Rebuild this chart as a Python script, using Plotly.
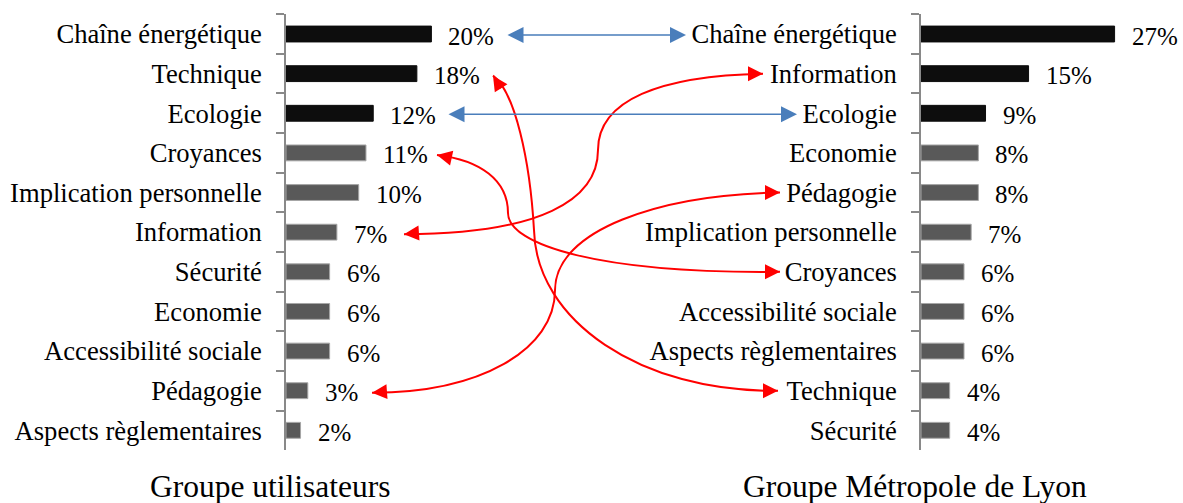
import plotly.graph_objects as go

left_categories = [
    "Chaîne énergétique", "Technique", "Ecologie", "Croyances",
    "Implication personnelle", "Information", "Sécurité", "Economie",
    "Accessibilité sociale", "Pédagogie", "Aspects règlementaires",
]
left_values = [20, 18, 12, 11, 10, 7, 6, 6, 6, 3, 2]

right_categories = [
    "Chaîne énergétique", "Information", "Ecologie", "Economie", "Pédagogie",
    "Implication personnelle", "Croyances", "Accessibilité sociale",
    "Aspects règlementaires", "Technique", "Sécurité",
]
right_values = [27, 15, 9, 8, 8, 7, 6, 6, 6, 4, 4]

left_title = "Groupe utilisateurs"
right_title = "Groupe Métropole de Lyon"

# categories shared by both groups that keep their rank (blue) or move (red)
same_rank_links = ["Chaîne énergétique", "Ecologie"]
moved_links = ["Information", "Croyances", "Technique", "Pédagogie"]

W, H = 1183, 503
FONT = "Liberation Serif"
TOP, ROW = 14.2, 39.63
AXIS_GREY = "#898989"
DARK, GREY, EDGE = "#0d0d0d", "#595959", "#a6a6a6"
BLUE, RED = "#4a7ebb", "#ff0000"


def px_x(x):
    return x / W


def px_y(y):
    return 1 - y / H


def row_y(i):
    return TOP + (i + 0.5) * ROW


def bar_colors(n):
    return [DARK if i < 3 else GREY for i in range(n)]


def bar_edges(n):
    return [DARK if i < 3 else EDGE for i in range(n)]


fig = go.Figure()
fig.add_trace(go.Bar(
    x=left_values, y=left_categories, orientation="h",
    marker=dict(color=bar_colors(len(left_values)),
                line=dict(color=bar_edges(len(left_values)), width=1)),
    xaxis="x", yaxis="y", hoverinfo="x+y",
))
fig.add_trace(go.Bar(
    x=right_values, y=right_categories, orientation="h",
    marker=dict(color=bar_colors(len(right_values)),
                line=dict(color=bar_edges(len(right_values)), width=1)),
    xaxis="x2", yaxis="y2", hoverinfo="x+y",
))

y_domain = [px_y(TOP + ROW * len(left_categories)), px_y(TOP)]
yaxis_style = dict(
    type="category", autorange="reversed", domain=y_domain,
    showline=True, linecolor=AXIS_GREY, linewidth=1.5,
    ticks="outside", tickson="boundaries", ticklen=8,
    tickcolor=AXIS_GREY, tickwidth=1.5, showgrid=False, zeroline=False,
    ticklabelstandoff=17,
    tickfont=dict(family=FONT, size=26.6, color="black"),
    automargin=False, fixedrange=True,
)
xaxis_style = dict(visible=False, showgrid=False, zeroline=False, fixedrange=True)

left_x0, left_scale, left_max = 286.0, 7.27, 25
right_x0, right_scale, right_max = 921.0, 7.17, 30

annotations = []
for cats, vals, xa, ya in [
    (left_categories, left_values, "x", "y"),
    (right_categories, right_values, "x2", "y2"),
]:
    for c, v in zip(cats, vals):
        annotations.append(dict(
            x=v, y=c, xref=xa, yref=ya, text=f"{v}%", showarrow=False,
            xanchor="left", xshift=15, yshift=-2,
            font=dict(family=FONT, size=25, color="black"),
        ))

for text, cx in [(left_title, 270), (right_title, 915)]:
    annotations.append(dict(
        x=px_x(cx), y=px_y(486), xref="paper", yref="paper", text=text,
        showarrow=False, xanchor="center", yanchor="middle",
        font=dict(family=FONT, size=31.5, color="black"),
    ))

# blue double arrows: left tip x, right tip x (pixels)
blue_x = {"Chaîne énergétique": (506, 686), "Ecologie": (447, 797)}
for cat in same_rank_links:
    xl, xr = blue_x[cat]
    yl = row_y(left_categories.index(cat)) + 1
    yr = row_y(right_categories.index(cat)) + 1
    annotations.append(dict(
        x=px_x(xr), y=px_y(yr), xref="paper", yref="paper",
        ax=xl - xr, ay=yl - yr, text="", showarrow=True,
        arrowside="end+start", arrowhead=2, startarrowhead=2,
        arrowsize=2.0, startarrowsize=2.0, arrowwidth=1.6,
        arrowcolor=BLUE, standoff=0, startstandoff=0,
    ))

# red curved connectors: two cubic pieces through an elbow point (pixels)
red_geom = {
    "Information": dict(xl=404, xr=763, dl=(14, -1),
                        c=[(540, None), (598, 200), (598, 150),
                           (598, 100), (660, None)]),
    "Croyances": dict(xl=437, xr=780, dl=(14, 3),
                      c=[(480, 160), (508, 180), (508, 213),
                         (508, 245), (600, None)]),
    "Technique": dict(xl=493, xr=778, dl=(9, 14),
                      c=[(515, 92), (530, 160), (534, 230),
                         (536, 320), (640, None)]),
    "Pédagogie": dict(xl=372, xr=780, dl=(14, -1),
                      c=[(480, None), (555, 350), (555, 290),
                         (555, 230), (660, None)]),
}
shapes = []
for cat in moved_links:
    g = red_geom[cat]
    yl = row_y(left_categories.index(cat)) + 2
    yr = row_y(right_categories.index(cat))
    p1, p2, pm, p4, p5 = g["c"]
    p1 = (p1[0], yl if p1[1] is None else p1[1])
    p5 = (p5[0], yr + 2 if p5[1] is None else p5[1])
    pts = [(g["xl"], yl), p1, p2, pm, p4, p5, (g["xr"], yr)]
    s = [f"{px_x(x):.5f},{px_y(y):.5f}" for x, y in pts]
    path = f"M{s[0]} C{s[1]} {s[2]} {s[3]} C{s[4]} {s[5]} {s[6]}"
    shapes.append(dict(type="path", path=path, xref="paper", yref="paper",
                       line=dict(color=RED, width=2)))
    dx, dy = g["dl"]
    annotations.append(dict(
        x=px_x(g["xl"]), y=px_y(yl), xref="paper", yref="paper",
        ax=dx, ay=dy, text="", showarrow=True, arrowhead=2,
        arrowsize=1.5, arrowwidth=2, arrowcolor=RED, standoff=0,
    ))
    annotations.append(dict(
        x=px_x(g["xr"]), y=px_y(yr), xref="paper", yref="paper",
        ax=-14, ay=0, text="", showarrow=True, arrowhead=2,
        arrowsize=1.5, arrowwidth=2, arrowcolor=RED, standoff=0,
    ))

fig.update_layout(
    width=W, height=H,
    margin=dict(l=0, r=0, t=0, b=0),
    paper_bgcolor="white", plot_bgcolor="white",
    showlegend=False, bargap=0.6,
    xaxis=dict(domain=[px_x(left_x0), px_x(left_x0 + left_scale * left_max)],
               range=[0, left_max], anchor="y", **xaxis_style),
    xaxis2=dict(domain=[px_x(right_x0), px_x(right_x0 + right_scale * right_max)],
                range=[0, right_max], anchor="y2", **xaxis_style),
    yaxis=dict(anchor="x", **yaxis_style),
    yaxis2=dict(anchor="x2", **yaxis_style),
    annotations=annotations,
    shapes=shapes,
)

fig.write_html(
    "out.html",
    config={"displayModeBar": False},
    post_script="document.body.style.margin = '0';",
)
